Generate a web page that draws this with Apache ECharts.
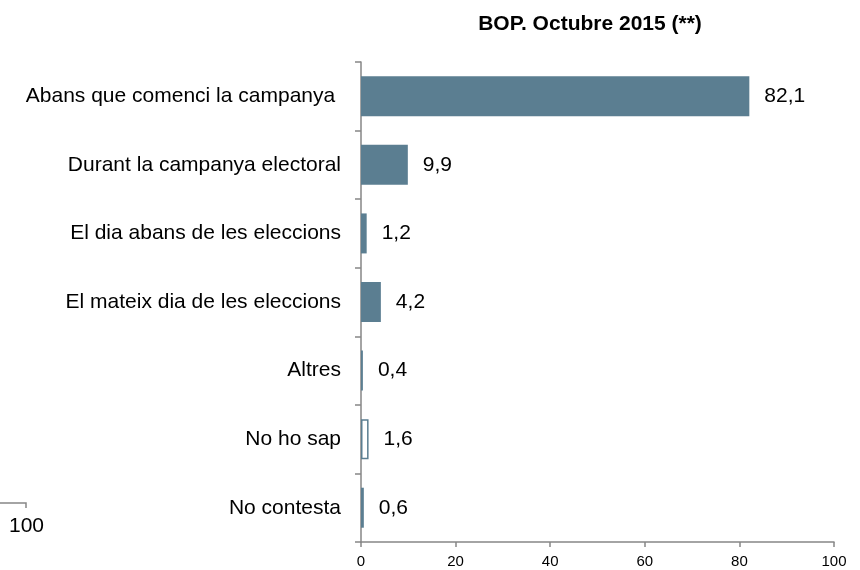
<!DOCTYPE html>
<html>
<head>
<meta charset="utf-8">
<script src="https://cdn.jsdelivr.net/npm/echarts@6/dist/echarts.min.js"></script>
<style>
  html, body { margin: 0; padding: 0; background: #fff; }
  #chart { width: 860px; height: 570px; }
</style>
</head>
<body>
<div id="chart"></div>
<script>
// Moment of deciding the vote (%)
const categories = [
  'Abans que comenci la campanya ',
  'Durant la campanya electoral',
  'El dia abans de les eleccions',
  'El mateix dia de les eleccions',
  'Altres',
  'No ho sap',
  'No contesta'
];
const values = [82.1, 9.9, 1.2, 4.2, 0.4, 1.6, 0.6];
// Answers drawn as outlined (unfilled) bars
const outlined = [false, false, false, false, true, true, true];
const xTicks = [0, 20, 40, 60, 80, 100];

const barColor = '#5b7e91';
const axisColor = '#868686';
const font = 'Liberation Sans, Arial, sans-serif';

const chart = echarts.init(document.getElementById('chart'));

const seriesData = values.map((v, i) => ({
  value: v,
  itemStyle: outlined[i]
    ? { color: '#ffffff', borderColor: barColor, borderWidth: 1.5 }
    : { color: barColor }
}));

chart.setOption({
  animation: false,
  title: {
    text: 'BOP. Octubre 2015 (**)',
    left: 585,
    top: 9,
    textAlign: 'center',
    textStyle: { fontFamily: font, fontSize: 21, fontWeight: 'bold', color: '#000' }
  },
  grid: { left: 361, right: 26, top: 62, bottom: 28, containLabel: false },
  xAxis: {
    type: 'value',
    min: xTicks[0],
    max: xTicks[xTicks.length - 1],
    interval: xTicks[1] - xTicks[0],
    axisLine: { show: true, lineStyle: { color: axisColor, width: 1.5 } },
    axisTick: { show: true, length: 5, lineStyle: { color: axisColor, width: 1.5 } },
    splitLine: { show: false },
    axisLabel: { margin: 12, fontFamily: font, fontSize: 15, color: '#000' }
  },
  yAxis: {
    type: 'category',
    inverse: true,
    data: categories,
    axisLine: { show: true, lineStyle: { color: axisColor, width: 1.5 } },
    axisTick: { show: true, length: 6, inside: false, lineStyle: { color: axisColor, width: 1.5 } },
    axisLabel: { margin: 20, fontFamily: font, fontSize: 21, color: '#000' }
  },
  series: [{
    type: 'bar',
    data: seriesData,
    barWidth: 40,
    label: {
      show: true,
      position: 'right',
      distance: 15,
      fontFamily: font,
      fontSize: 21,
      color: '#000',
      formatter: p => String(p.value).replace('.', ',')
    }
  }],
  graphic: [
    {
      type: 'polyline',
      shape: { points: [[0, 503], [26, 503], [26, 508]] },
      style: { stroke: axisColor, lineWidth: 1.5, fill: null }
    },
    {
      type: 'text',
      left: 9,
      top: 516,
      style: { text: '100', font: '21px ' + font, fill: '#000' }
    }
  ]
});
</script>
</body>
</html>
